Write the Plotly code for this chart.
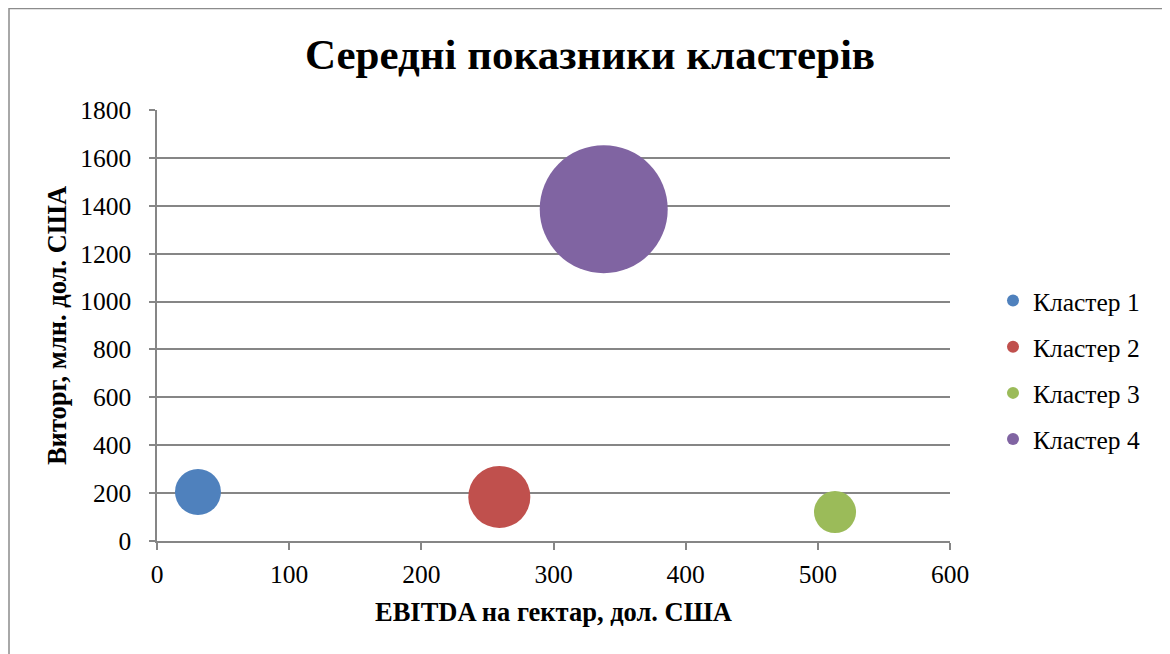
import plotly.graph_objects as go

clusters = ["Кластер 1", "Кластер 2", "Кластер 3", "Кластер 4"]
ebitda = [31, 259, 513, 338]
revenue = [205, 184, 121, 1386]
bubble_size = [12.9, 23.5, 10.8, 100]
colors = ["#4F81BD", "#C0504D", "#9BBB59", "#8064A2"]

x_ticks = [0, 100, 200, 300, 400, 500, 600]
y_ticks = [0, 200, 400, 600, 800, 1000, 1200, 1400, 1600, 1800]

OFF = 8  # page body margin
W, H = 1170, 654
ml, mt = 157 - OFF, 110 - OFF
pw, ph = 793, 431
mr, mb = W - ml - pw, H - mt - ph
max_diam = 128
sizeref = 2.0 * max(bubble_size) / max_diam ** 2

FONT = "Liberation Serif"
axis_col = "#868686"
TICK = 25.5
AX_T = 26.5

fig = go.Figure()
for i, name in enumerate(clusters):
    fig.add_trace(go.Scatter(
        x=[ebitda[i]], y=[revenue[i]], mode="markers", name=name,
        legendgroup=name,
        marker=dict(size=[bubble_size[i]], sizemode="area", sizeref=sizeref,
                    color=colors[i], opacity=1, line=dict(width=0)),
    ))


def px2x(p):
    return (p - OFF - ml) / pw


def py2y(p):
    return (mt + ph - (p - OFF)) / ph


fig.update_layout(
    width=W, height=H,
    margin=dict(l=ml, r=mr, t=mt, b=mb),
    paper_bgcolor="white", plot_bgcolor="white",
    font=dict(family=FONT, color="black", size=TICK),
    title=dict(text="<b>Середні показники кластерів</b>", x=(590 - OFF) / W, xref="container",
               xanchor="center", y=1 - (54 - OFF) / H, yanchor="middle",
               font=dict(size=43, family=FONT, color="black")),
    xaxis=dict(range=[0, 600], tickvals=x_ticks, showgrid=False, zeroline=False,
               showline=True, linecolor=axis_col, linewidth=1.5,
               ticks="outside", ticklen=7, tickcolor=axis_col, tickwidth=1.5,
               tickfont=dict(size=TICK, family=FONT, color="black"), ticklabelstandoff=3,
               title=dict(text="<b>EBITDA на гектар, дол. США</b>",
                          font=dict(size=AX_T, family=FONT, color="black"), standoff=14)),
    yaxis=dict(range=[0, 1800], tickvals=y_ticks, showgrid=True, gridcolor=axis_col,
               gridwidth=1.5, zeroline=False, showline=True, linecolor=axis_col,
               linewidth=1.5, ticks="outside", ticklen=6, tickcolor=axis_col,
               tickwidth=1.5, tickfont=dict(size=TICK, family=FONT, color="black"),
               ticklabelstandoff=13,
               title=dict(text="<b>Виторг, млн. дол. США</b>",
                          font=dict(size=AX_T, family=FONT, color="black"), standoff=6)),
    legend=dict(x=px2x(993), y=py2y(370), xanchor="left", yanchor="middle",
                font=dict(size=TICK, family=FONT, color="black"), itemsizing="constant",
                tracegroupgap=10, itemwidth=30, bgcolor="rgba(0,0,0,0)"),
    showlegend=True,
)

fig.add_shape(type="rect", xref="paper", yref="paper",
              x0=px2x(9), x1=px2x(1167), y0=py2y(680), y1=py2y(8.6),
              line=dict(color="#8c8c8c", width=1.5), fillcolor="rgba(0,0,0,0)",
              layer="below")

fig.write_html("out.html")
